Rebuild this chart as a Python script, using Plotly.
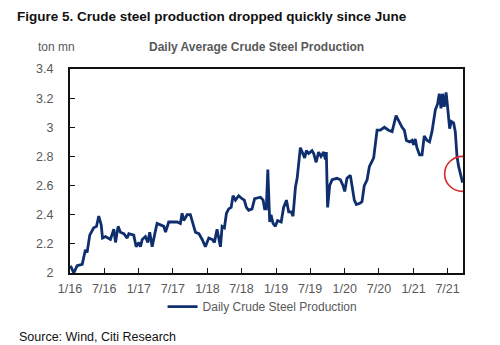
import plotly.graph_objects as go

# Ten-day average crude steel output, million tonnes per day
dates = [
    "2016-01-04", "2016-01-21", "2016-02-08", "2016-03-06", "2016-03-23", "2016-04-01",
    "2016-04-15", "2016-05-06", "2016-05-21", "2016-06-02", "2016-06-15", "2016-06-22",
    "2016-07-08", "2016-08-03", "2016-08-21", "2016-08-30", "2016-09-13", "2016-09-25",
    "2016-10-13", "2016-10-31", "2016-11-09", "2016-12-05", "2016-12-18", "2017-01-01",
    "2017-01-10", "2017-01-19", "2017-02-05", "2017-02-18", "2017-02-28", "2017-03-13",
    "2017-03-27", "2017-04-08", "2017-04-26", "2017-05-14", "2017-05-23", "2017-06-09",
    "2017-07-06", "2017-07-24", "2017-08-10", "2017-08-19", "2017-08-28", "2017-09-15",
    "2017-10-02", "2017-10-17", "2017-10-29", "2017-11-16", "2017-12-04", "2017-12-21",
    "2018-01-08", "2018-01-26", "2018-02-07", "2018-02-21", "2018-03-02", "2018-03-11",
    "2018-03-20", "2018-04-01", "2018-04-12", "2018-04-24", "2018-05-07", "2018-05-17",
    "2018-05-30", "2018-06-16", "2018-07-04", "2018-07-16", "2018-07-27", "2018-08-08",
    "2018-08-26", "2018-09-09", "2018-10-10", "2018-10-24", "2018-11-01", "2018-11-10",
    "2018-11-18", "2018-11-28", "2018-12-05", "2018-12-16", "2018-12-28", "2019-01-09",
    "2019-01-28", "2019-02-10", "2019-02-25", "2019-03-09", "2019-03-22", "2019-04-01",
    "2019-04-14", "2019-04-23", "2019-05-10", "2019-05-24", "2019-06-02", "2019-06-11",
    "2019-06-23", "2019-07-11", "2019-07-20", "2019-08-02", "2019-08-15", "2019-08-28",
    "2019-09-11", "2019-09-20", "2019-09-25", "2019-10-02", "2019-10-13", "2019-10-26",
    "2019-11-21", "2019-12-09", "2019-12-23", "2020-01-01", "2020-01-13", "2020-01-31",
    "2020-02-12", "2020-02-21", "2020-03-03", "2020-03-24", "2020-04-02", "2020-04-14",
    "2020-04-29", "2020-05-11", "2020-06-03", "2020-06-21", "2020-07-08", "2020-07-30",
    "2020-08-21", "2020-09-09", "2020-09-30", "2020-10-14", "2020-11-01", "2020-11-13",
    "2020-11-24", "2020-12-11", "2020-12-24", "2021-01-01", "2021-01-10", "2021-01-19",
    "2021-02-02", "2021-02-15", "2021-02-27", "2021-03-14", "2021-03-27", "2021-04-09",
    "2021-04-27", "2021-05-09", "2021-05-18", "2021-05-27", "2021-06-04", "2021-06-13",
    "2021-06-23", "2021-07-01", "2021-07-12", "2021-07-21", "2021-08-02", "2021-08-11",
    "2021-08-20", "2021-08-29", "2021-09-10", "2021-09-19",
]
production = [
    2.05, 2.00, 2.05, 2.06, 2.16, 2.14,
    2.26, 2.31, 2.32, 2.39, 2.33, 2.24,
    2.25, 2.23, 2.30, 2.21, 2.32, 2.28,
    2.27, 2.24, 2.27, 2.26, 2.18, 2.21,
    2.18, 2.23, 2.25, 2.21, 2.28, 2.18,
    2.27, 2.34, 2.33, 2.32, 2.28, 2.35,
    2.35, 2.35, 2.34, 2.41, 2.36, 2.40,
    2.40, 2.34, 2.28, 2.27, 2.23, 2.18,
    2.24, 2.23, 2.21, 2.30, 2.23, 2.18,
    2.32, 2.31, 2.41, 2.44, 2.45, 2.53,
    2.50, 2.53, 2.51, 2.50, 2.45, 2.43,
    2.44, 2.51, 2.52, 2.50, 2.44, 2.44,
    2.71, 2.35, 2.40, 2.34, 2.32, 2.36,
    2.35, 2.45, 2.50, 2.42, 2.42, 2.39,
    2.59, 2.65, 2.86, 2.81, 2.79, 2.84,
    2.82, 2.84, 2.82, 2.76, 2.83, 2.80,
    2.83, 2.78, 2.83, 2.45, 2.60, 2.64,
    2.65, 2.64, 2.60, 2.56, 2.65, 2.67,
    2.58, 2.50, 2.47, 2.48, 2.49, 2.60,
    2.64, 2.73, 2.79, 2.98, 2.98, 3.00,
    2.98, 2.97, 3.08, 3.04, 3.00, 2.98,
    2.91, 2.90, 2.91, 2.88, 2.92, 2.86,
    2.81, 2.81, 2.94, 2.91, 2.90, 2.97,
    3.12, 3.16, 3.23, 3.13, 3.23, 3.14,
    3.24, 3.14, 2.99, 3.04, 3.03, 2.97,
    2.80, 2.73, 2.67, 2.62,
]

tick_dates = ["2016-01-01", "2016-07-01", "2017-01-01", "2017-07-01", "2018-01-01",
              "2018-07-01", "2019-01-01", "2019-07-01", "2020-01-01", "2020-07-01",
              "2021-01-01", "2021-07-01"]
tick_labels = ["1/16", "7/16", "1/17", "7/17", "1/18", "7/18", "1/19", "7/19",
               "1/20", "7/20", "1/21", "7/21"]
y_ticks = [2, 2.2, 2.4, 2.6, 2.8, 3, 3.2, 3.4]

FONT = "Liberation Sans, Arial, sans-serif"
GREY = "#595959"
NAVY = "#0f2e6e"

fig = go.Figure()
fig.add_trace(go.Scatter(
    x=dates, y=production, mode="lines",
    name="Daily Crude Steel Production",
    line=dict(color=NAVY, width=2.8),
))

# Highlight the latest reading
fig.add_shape(
    type="circle", xref="x", yref="y", xsizemode="pixel", ysizemode="pixel",
    xanchor=dates[-1], yanchor=production[-1] + 0.06,
    x0=-18, x1=18, y0=-17.5, y1=17.5,
    line=dict(color="#d42a2a", width=1.6),
)

fig.update_layout(
    width=500, height=345,
    margin=dict(l=70, r=37, t=69, b=72),
    paper_bgcolor="white", plot_bgcolor="white",
    font=dict(family=FONT, color=GREY, size=12),
    showlegend=True,
    legend=dict(
        orientation="h", x=0.49, xanchor="center", y=-0.165, yanchor="middle",
        font=dict(family=FONT, size=12, color=GREY),
        itemwidth=30, bgcolor="rgba(0,0,0,0)",
    ),
    title=dict(
        text="<b>Figure 5. Crude steel production dropped quickly since June</b>",
        x=17 / 500, xanchor="left", xref="container",
        y=1 - 16 / 345, yanchor="middle", yref="container",
        font=dict(family=FONT, size=13.5, color="#111111"),
    ),
    xaxis=dict(
        type="date",
        range=["2016-01-01", "2021-09-21"],
        tickvals=tick_dates, ticktext=tick_labels,
        ticks="inside", ticklen=5, tickwidth=1.3, tickcolor="#111111",
        showline=True, linecolor="#111111", linewidth=2, mirror=True,
        showgrid=False, zeroline=False, ticklabelstandoff=3,
        tickfont=dict(family=FONT, size=12.5, color=GREY),
    ),
    yaxis=dict(
        range=[2, 3.4],
        tickvals=y_ticks, ticktext=[f"{v:g}" for v in y_ticks],
        ticks="inside", ticklen=5, tickwidth=1.3, tickcolor="#111111",
        showline=True, linecolor="#111111", linewidth=2, mirror=True,
        showgrid=False, zeroline=False, ticklabelstandoff=12,
        tickfont=dict(family=FONT, size=12.5, color=GREY),
    ),
    annotations=[
        dict(text="<b>Daily Average Crude Steel Production</b>",
             xref="paper", yref="paper", x=(256 - 70) / 393, y=(273 - 47) / 204,
             xanchor="center", yanchor="middle", showarrow=False,
             font=dict(family=FONT, size=12, color=GREY)),
        dict(text="ton mn",
             xref="paper", yref="paper", x=(36 - 70) / 393, y=(273 - 47) / 204,
             xanchor="left", yanchor="middle", showarrow=False,
             font=dict(family=FONT, size=12, color=GREY)),
        dict(text="Source: Wind, Citi Research",
             xref="paper", yref="paper", x=(17 - 70) / 393, y=(273 - 337) / 204,
             xanchor="left", yanchor="middle", showarrow=False,
             font=dict(family=FONT, size=12.5, color="#111111")),
    ],
)

fig.write_html("out.html")
